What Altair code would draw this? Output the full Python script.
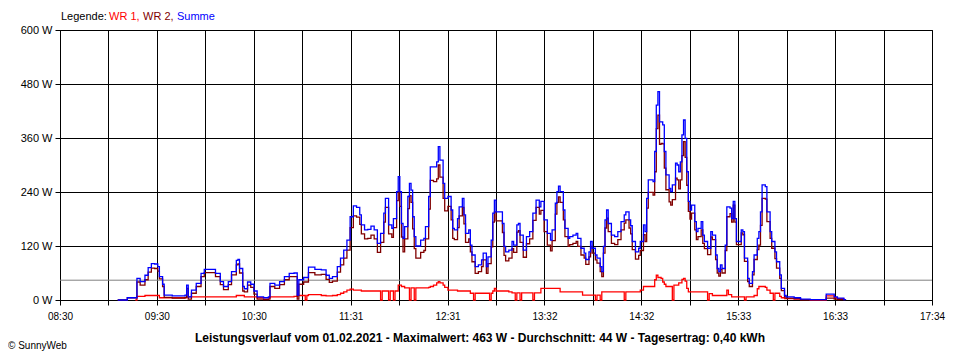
import altair as alt
import pandas as pd

# ---------------- data ----------------
START = "08:30"
END = "17:34"
X_LABELS = ["08:30", "09:30", "10:30", "11:31", "12:31", "13:32", "14:32", "15:33", "16:33", "17:34"]
Y_TICKS = [0, 120, 240, 360, 480, 600]
AVG_W = 44
TITLE = "Leistungsverlauf vom 01.02.2021 - Maximalwert: 463 W - Durchschnitt: 44 W - Tagesertrag: 0,40 kWh"
LEGEND_PARTS = ["Legende:", "WR 1,", "WR 2,", "Summe"]
SERIES_COLORS = ["#000000", "#ff0000", "#800000", "#0000ff"]

SUMME_TIME = [
    "09:06", "09:12", "09:17", "09:18", "09:20", "09:23", "09:25", "09:27", "09:29", "09:31",
    "09:32", "09:34", "09:35", "09:40", "09:44", "09:48", "09:49", "09:50", "09:52", "09:55",
    "09:58", "10:00", "10:04", "10:07", "10:10", "10:12", "10:15", "10:17", "10:20", "10:21",
    "10:22", "10:24", "10:25", "10:27", "10:29", "10:31", "10:33", "10:37", "10:40", "10:41",
    "10:44", "10:47", "10:50", "10:53", "10:56", "10:58", "10:59", "11:02", "11:05", "11:09",
    "11:13", "11:16", "11:18", "11:20", "11:23", "11:25", "11:27", "11:29", "11:31", "11:33",
    "11:35", "11:37", "11:38", "11:40", "11:42", "11:44", "11:46", "11:48", "11:50", "11:52",
    "11:53", "11:54", "11:55", "11:57", "11:58", "12:00", "12:01", "12:02", "12:03", "12:04",
    "12:05", "12:07", "12:08", "12:09", "12:10", "12:11", "12:12", "12:15", "12:17", "12:18",
    "12:20", "12:21", "12:23", "12:25", "12:26", "12:27", "12:29", "12:30", "12:32", "12:34",
    "12:35", "12:36", "12:38", "12:39", "12:41", "12:42", "12:43", "12:45", "12:46", "12:47",
    "12:49", "12:51", "12:53", "12:54", "12:56", "12:57", "12:59", "13:00", "13:01", "13:02",
    "13:04", "13:06", "13:07", "13:08", "13:10", "13:12", "13:13", "13:15", "13:16", "13:17",
    "13:19", "13:21", "13:23", "13:25", "13:27", "13:29", "13:30", "13:32", "13:34", "13:36",
    "13:37", "13:39", "13:40", "13:41", "13:42", "13:44", "13:45", "13:47", "13:48", "13:50",
    "13:52", "13:53", "13:55", "13:57", "13:58", "14:00", "14:01", "14:02", "14:04", "14:05",
    "14:07", "14:08", "14:09", "14:10", "14:11", "14:12", "14:14", "14:16", "14:18", "14:20",
    "14:22", "14:23", "14:25", "14:26", "14:27", "14:29", "14:31", "14:32", "14:34", "14:35",
    "14:36", "14:37", "14:39", "14:40", "14:41", "14:42", "14:43", "14:44", "14:45", "14:46",
    "14:47", "14:48", "14:50", "14:51", "14:52", "14:54", "14:55", "14:56", "14:57", "14:58",
    "14:59", "15:00", "15:01", "15:02", "15:03", "15:04", "15:06", "15:07", "15:08", "15:10",
    "15:11", "15:12", "15:14", "15:16", "15:17", "15:19", "15:20", "15:21", "15:22", "15:23",
    "15:25", "15:26", "15:28", "15:29", "15:30", "15:31", "15:32", "15:33", "15:35", "15:36",
    "15:37", "15:39", "15:40", "15:42", "15:43", "15:45", "15:46", "15:47", "15:48", "15:50",
    "15:51", "15:53", "15:54", "15:56", "15:57", "15:59", "16:00", "16:02", "16:03", "16:08",
    "16:12", "16:18", "16:26", "16:28", "16:32", "16:33", "16:35", "16:39", "16:40",
]
SUMME_W = [
    0, 5, 5, 48, 41, 55, 72, 81, 80, 74,
    52, 35, 11, 9, 9, 11, 33, 7, 22, 37,
    59, 68, 68, 59, 41, 30, 41, 63, 88, 90,
    70, 30, 25, 40, 35, 20, 7, 5, 7, 37,
    33, 41, 52, 59, 60, 11, 45, 50, 73, 68,
    67, 55, 48, 52, 74, 93, 111, 133, 185, 209,
    206, 189, 167, 156, 157, 164, 156, 126, 148, 193,
    226, 226, 167, 159, 181, 241, 274, 241, 170, 137,
    163, 230, 259, 244, 185, 141, 120, 133, 137, 163,
    230, 296, 296, 307, 341, 311, 259, 226, 230, 200,
    159, 156, 181, 207, 226, 189, 148, 156, 122, 100,
    74, 78, 89, 104, 74, 96, 133, 193, 222, 196,
    196, 170, 119, 107, 111, 130, 122, 167, 170, 144,
    111, 141, 152, 193, 222, 207, 219, 178, 148, 133,
    156, 215, 241, 253, 241, 200, 159, 137, 141, 144,
    148, 137, 115, 104, 90, 107, 130, 115, 100, 93,
    74, 63, 119, 178, 200, 170, 144, 141, 152, 174,
    189, 196, 178, 165, 130, 107, 115, 130, 167, 152,
    226, 267, 267, 263, 330, 433, 463, 396, 396, 389,
    330, 278, 248, 241, 256, 304, 300, 285, 307, 367,
    400, 359, 285, 219, 200, 211, 174, 152, 159, 174,
    144, 130, 115, 152, 144, 100, 70, 63, 78, 70,
    122, 207, 204, 181, 219, 181, 130, 130, 156, 152,
    93, 48, 37, 63, 100, 137, 152, 196, 256, 252,
    196, 152, 130, 107, 85, 56, 26, 10, 7, 5,
    2, 1, 1, 13, 13, 7, 4, 1, 0,
]
WR2_W = [
    0, 5, 5, 40, 33, 45, 62, 71, 70, 64,
    47, 30, 6, 4, 4, 6, 26, 2, 15, 30,
    52, 61, 61, 52, 34, 23, 34, 56, 78, 80,
    60, 20, 18, 33, 28, 13, 2, 1, 2, 30,
    26, 34, 45, 52, 52, 2, 35, 40, 61, 56,
    57, 46, 39, 42, 62, 78, 93, 111, 161, 187,
    184, 168, 147, 136, 137, 144, 136, 106, 128, 173,
    206, 206, 147, 139, 161, 221, 241, 208, 140, 107,
    136, 203, 232, 217, 158, 114, 93, 106, 110, 136,
    202, 266, 263, 269, 300, 273, 226, 198, 208, 178,
    137, 134, 161, 187, 206, 169, 128, 136, 107, 85,
    59, 63, 74, 89, 59, 81, 118, 173, 196, 176,
    176, 150, 99, 87, 93, 114, 106, 151, 154, 128,
    95, 125, 136, 177, 206, 191, 199, 152, 122, 109,
    132, 191, 217, 229, 217, 178, 141, 119, 123, 126,
    130, 119, 100, 93, 79, 96, 119, 104, 89, 82,
    63, 52, 104, 160, 182, 152, 126, 123, 134, 156,
    171, 178, 160, 147, 112, 91, 99, 110, 145, 130,
    204, 239, 239, 233, 285, 381, 411, 346, 348, 347,
    293, 245, 218, 211, 223, 271, 267, 247, 267, 321,
    352, 317, 255, 197, 180, 193, 156, 134, 141, 156,
    126, 114, 101, 140, 134, 90, 60, 53, 68, 60,
    110, 185, 192, 173, 211, 173, 123, 123, 149, 145,
    86, 41, 30, 56, 90, 112, 122, 166, 226, 224,
    174, 137, 115, 92, 71, 48, 21, 7, 4, 3,
    1, 1, 1, 4, 4, 2, 1, 1, 0,
]
WR1_TIME = [
    "09:17", "09:18", "09:23", "09:32", "09:49", "10:20", "10:25", "10:33", "10:41", "10:56",
    "10:58", "11:03", "11:04", "11:05", "11:13", "11:16", "11:20", "11:23", "11:25", "11:27",
    "11:29", "11:31", "11:33", "11:38", "11:50", "11:51", "11:55", "11:56", "11:58", "11:59",
    "12:01", "12:03", "12:05", "12:08", "12:09", "12:11", "12:12", "12:20", "12:21", "12:23",
    "12:25", "12:26", "12:27", "12:29", "12:30", "12:32", "12:38", "12:46", "12:48", "12:49",
    "12:58", "12:59", "13:00", "13:01", "13:02", "13:10", "13:12", "13:14", "13:15", "13:17",
    "13:18", "13:25", "13:26", "13:30", "13:42", "13:56", "14:04", "14:05", "14:07", "14:08",
    "14:22", "14:23", "14:32", "14:34", "14:41", "14:42", "14:43", "14:45", "14:46", "14:47",
    "14:48", "14:52", "14:53", "14:56", "14:58", "14:59", "15:00", "15:01", "15:02", "15:14",
    "15:15", "15:17", "15:26", "15:27", "15:29", "15:37", "15:38", "15:43", "15:45", "15:46",
    "15:50", "15:51", "15:53", "15:55", "15:56", "15:59", "16:00", "16:02", "16:08", "16:12",
    "16:18", "16:28", "16:33", "16:35", "16:39",
]
WR1_W = [
    0, 8, 10, 5, 7, 10, 7, 5, 7, 8,
    10, 0, 10, 12, 10, 9, 10, 12, 15, 18,
    22, 24, 22, 20, 0, 20, 0, 20, 0, 20,
    33, 30, 27, 0, 27, 0, 27, 28, 30, 33,
    38, 41, 38, 33, 28, 22, 20, 15, 0, 15,
    0, 15, 20, 26, 20, 18, 16, 0, 16, 0,
    16, 0, 16, 26, 18, 11, 0, 11, 0, 18,
    0, 18, 22, 30, 45, 55, 50, 48, 40, 35,
    30, 0, 33, 38, 46, 48, 42, 26, 18, 0,
    14, 10, 22, 12, 7, 0, 7, 10, 25, 30,
    28, 22, 15, 0, 15, 8, 5, 3, 2, 1,
    0, 9, 5, 3, 0,
]

# ---------------- build tables ----------------
def to_min(t):
    h, m = t.split(":")
    sh, sm = START.split(":")
    return int(h) * 60 + int(m) - (int(sh) * 60 + int(sm))

SPAN = to_min(END)
N_GRID = 2 * (len(X_LABELS) - 1)
x_values = [i * SPAN / N_GRID for i in range(N_GRID + 1)]
label_slots = []
for i, lab in enumerate(X_LABELS):
    label_slots.append(lab)
    if i < len(X_LABELS) - 1:
        label_slots.append("")
label_js = "[" + ",".join("'" + s + "'" for s in label_slots) + "]"
x_label_expr = label_js + "[round(datum.value * " + str(N_GRID) + " / " + str(SPAN) + ")]"

df_sum = pd.DataFrame({"t": [to_min(t) for t in SUMME_TIME], "w": SUMME_W})
df_wr2 = pd.DataFrame({"t": [to_min(t) for t in SUMME_TIME], "w": WR2_W})
df_wr1 = pd.DataFrame({"t": [to_min(t) for t in WR1_TIME], "w": WR1_W})
df_avg = pd.DataFrame({"w": [AVG_W]})

FONT = "Liberation Sans"

x_enc = alt.X(
    "t:Q",
    scale=alt.Scale(domain=[0, SPAN], nice=False, zero=False),
    axis=alt.Axis(
        values=x_values, labelExpr=x_label_expr, title=None, grid=True,
        gridColor="black", gridOpacity=1, gridWidth=1, tickColor="black", tickSize=5,
        domainColor="black", labelColor="black", labelFont=FONT, labelFontSize=10,
        labelPadding=6, labelOverlap=False, labelFlush=False,
    ),
)
y_enc = alt.Y(
    "w:Q",
    scale=alt.Scale(domain=[0, 600], nice=False),
    axis=alt.Axis(
        values=Y_TICKS, labelExpr="datum.value + ' W'", title=None, grid=True,
        gridColor="black", gridOpacity=1, gridWidth=1, tickColor="black", tickSize=5,
        domainColor="black", labelColor="black", labelFont=FONT, labelFontSize=11,
        labelPadding=3,
    ),
)

avg_rule = alt.Chart(df_avg).mark_rule(color="#808080", strokeWidth=1).encode(y=alt.Y("w:Q"))

def line(df, color):
    return alt.Chart(df).mark_line(
        interpolate="step-after", color=color, strokeWidth=1.3
    ).encode(x=x_enc, y=y_enc)

wr1 = line(df_wr1, SERIES_COLORS[1])
wr2 = line(df_wr2, SERIES_COLORS[2])
summe = line(df_sum, SERIES_COLORS[3])

legend_x = [0, 48, 82, 116]
legend_layers = []
for txt, col, lx in zip(LEGEND_PARTS, SERIES_COLORS, legend_x):
    legend_layers.append(
        alt.Chart(pd.DataFrame({"s": [txt]})).mark_text(
            align="left", baseline="middle", color=col, font=FONT, fontSize=11
        ).encode(text="s:N", x=alt.value(lx + 1), y=alt.value(-13))
    )

title_layer = alt.Chart(pd.DataFrame({"s": [TITLE]})).mark_text(
    align="center", baseline="middle", color="black", font=FONT, fontSize=12, fontWeight="bold"
).encode(text="s:N", x=alt.value(420), y=alt.value(308))

credit_layer = alt.Chart(pd.DataFrame({"s": ["© SunnyWeb"]})).mark_text(
    align="left", baseline="middle", color="black", font=FONT, fontSize=10
).encode(text="s:N", x=alt.value(-52), y=alt.value(316))

chart = alt.layer(
    avg_rule, wr1, wr2, summe, *legend_layers, title_layer, credit_layer
).properties(
    width=872, height=270,
    padding={"left": 52, "top": 22, "right": 20, "bottom": 52},
    autosize=alt.AutoSizeParams(type="none"),
    background="white",
).configure_view(stroke="black", strokeWidth=1)

chart.save("out.html", embed_options={"renderer": "svg", "actions": False})
